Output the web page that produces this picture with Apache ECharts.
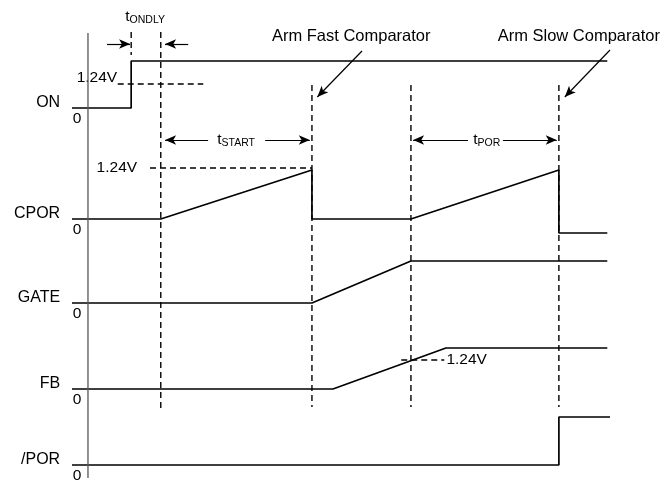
<!DOCTYPE html>
<html><head><meta charset="utf-8">
<script src="https://cdn.jsdelivr.net/npm/echarts@6/dist/echarts.min.js"></script>
<style>html,body{margin:0;padding:0;background:#fff}#c{width:662px;height:484px}</style>
</head><body><div id="c"></div>
<script>
// Time axis: arbitrary units 0..100. Level axis: drawing units 0..460 (lanes stacked).
const signalNames = ['ON', 'CPOR', 'GATE', 'FB', '/POR'];
const laneBase    = [372, 261, 177, 91, 15];

// waveforms [time, level]
const waveON   = [[0,372],[11,372],[11,419],[99.5,419]];
const waveCPOR = [[0,261],[16.5,261],[44.6,310],[44.6,261],[63,261],[90.5,310],[90.5,247],[99.5,247]];
const waveGATE = [[0,177],[44.6,177],[63,219],[99.5,219]];
const waveFB   = [[0,91],[48.5,91],[69.5,132],[99.5,132]];
const wavePOR  = [[0,15],[90.5,15],[90.5,63],[100,63]];
const waves = [waveON, waveCPOR, waveGATE, waveFB, wavePOR];

// dashed guides
const vGuides = [[11,448,425],[16.5,448,69],[44.6,395,73],[63,395,73],[90.5,395,73]]; // [t, top, bottom]
const hGuides = [[8.5,24.4,396],[14.5,44.6,312],[61.2,69.2,120]];                     // [t1, t2, level]
const refLabels = [['1.24V',8.4,402,'right'],['1.24V',12.1,312,'right'],['1.24V',69.6,120,'left']];

// timing arrows [fromT, fromV, toT, toV]
const arrows = [
  [6.5,436,10.8,436],[21.6,436,17.3,436],
  [25.3,340,17.3,340],[35.9,340,44.2,340],
  [73.6,340,63.4,340],[80.1,340,90.1,340],
  [53.9,429,45.6,383],[100,430,91.6,383]
];
const timingLabels = [['t','ONDLY',13.6,463],['t','START',30.5,340],['t','POR',77.1,340]];
const notes = [['Arm Fast Comparator',51.9,443.5],['Arm Slow Comparator',94.2,443.5]];
const axisLine = [[2.97,2],[2.97,447]];

const FONT = '"Liberation Sans", Arial, sans-serif';
const chart = echarts.init(document.getElementById('c'), null, {renderer:'canvas'});

const series = [];
waves.forEach((w,i)=>series.push({
  type:'line', name:signalNames[i], data:w, symbol:'none', silent:true, animation:false,
  lineStyle:{color:'#000', width:1.7}
}));
series.push({type:'line', data:axisLine, symbol:'none', silent:true, animation:false,
  lineStyle:{color:'#555', width:1.3}});
vGuides.forEach(g=>series.push({type:'line', data:[[g[0],g[1]],[g[0],g[2]]], symbol:'none', silent:true, animation:false,
  lineStyle:{color:'#000', width:1.4, type:[6,4]}}));
hGuides.forEach(g=>series.push({type:'line', data:[[g[0],g[2]],[g[1],g[2]]], symbol:'none', silent:true, animation:false,
  lineStyle:{color:'#000', width:1.4, type:[6,4]}}));
series.push({type:'line', data:[], silent:true, animation:false,
  markLine:{silent:true, animation:false, symbol:['none','arrow'], symbolSize:[7,11],
    label:{show:false}, lineStyle:{color:'#000', width:1.2, type:'solid'},
    data: arrows.map(a=>[{coord:[a[0],a[1]]},{coord:[a[2],a[3]]}])}});

chart.setOption({
  animation:false,
  grid:{left:72, right:52, top:20, bottom:4},
  xAxis:{type:'value', min:0, max:100, show:false},
  yAxis:{type:'value', min:0, max:460, show:false},
  series
});

const P = (t,v)=>chart.convertToPixel({gridIndex:0},[t,v]);
const g = [];
const txt = (s,t,v,align,size)=>{const p=P(t,v); g.push({type:'text', x:p[0], y:p[1], silent:true,
  style:{text:s, fill:'#000', font:(size||15.5)+'px '+FONT, textAlign:align, textVerticalAlign:'middle'}});};
signalNames.forEach((n,i)=>txt(n,-2.2,laneBase[i]+5,'right',16));
laneBase.forEach(b=>txt('0',0.93,b-11,'center',15.5));
refLabels.forEach(r=>txt(r[0],r[1],r[2],r[3],15.5));
notes.forEach(n=>txt(n[0],n[1],n[2],'center',16.5));
timingLabels.forEach(l=>{const p=P(l[2],l[3]); g.push({type:'text', x:p[0], y:p[1], silent:true,
  style:{text:'{a|'+l[0]+'}{b|'+l[1]+'}', textAlign:'center', textVerticalAlign:'middle',
    rich:{a:{fontSize:15.5, fontFamily:FONT, fill:'#000', color:'#000'},
          b:{fontSize:10.5, fontFamily:FONT, fill:'#000', color:'#000', verticalAlign:'bottom', padding:[7,0,0,0]}}}});});
chart.setOption({graphic:g});
</script></body></html>
